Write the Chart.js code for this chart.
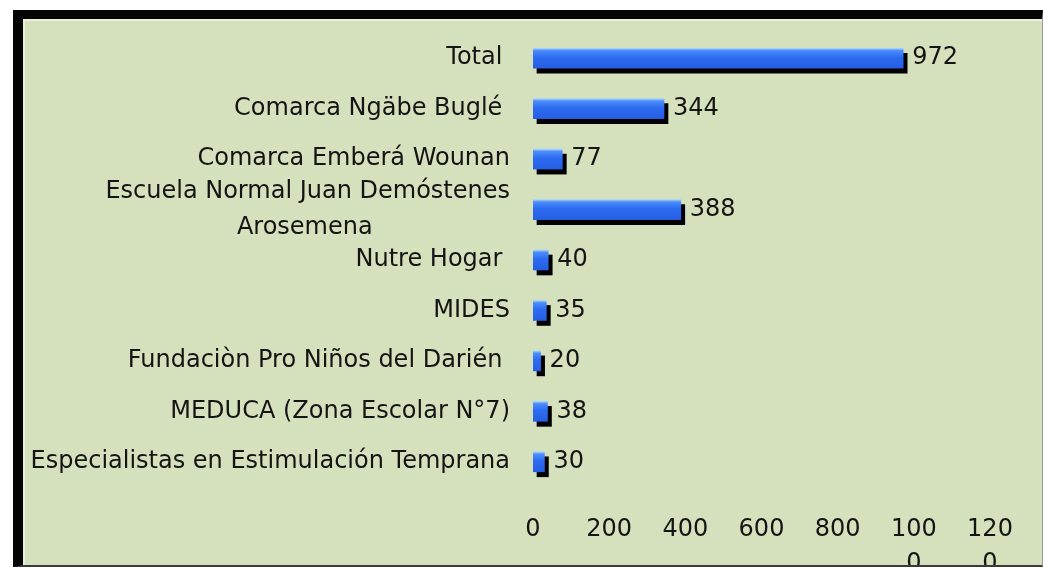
<!DOCTYPE html>
<html>
<head>
<meta charset="utf-8">
<script src="https://cdn.jsdelivr.net/npm/chart.js@4.4.1/dist/chart.umd.min.js"></script>
<style>
  html, body { margin: 0; padding: 0; background: #ffffff; }
  #frame {
    position: absolute; left: 13px; top: 10px;
    width: 1019px; height: 546px;
    border-top: 9px solid #050505;
    border-left: 10px solid #050505;
    border-right: 1px solid #9a9a9a;
    border-bottom: 2px solid #3a3a3a;
    background: #d5e0bd;
    box-shadow: inset 2px 2px 0 #e9efdc;
  }
  #clip { position: absolute; left: 0; top: 0; width: 1043px; height: 565px; overflow: hidden; }
  #wrap { position: absolute; left: 0; top: 0; width: 1043px; height: 569px; }
</style>
</head>
<body>
<div id="frame"></div>
<div id="clip"><div id="wrap"><canvas id="c"></canvas></div></div>
<script>
// ---- data ----
const categories = [
  'Total ',
  'Comarca Ngäbe Buglé ',
  'Comarca Emberá Wounan',
  ['Escuela Normal Juan Demóstenes', 'Arosemena                  '],
  'Nutre Hogar ',
  'MIDES',
  'Fundaciòn Pro Niños del Darién ',
  'MEDUCA (Zona Escolar N°7)',
  'Especialistas en Estimulación Temprana'
];
const values = [972, 344, 77, 388, 40, 35, 20, 38, 30];
const xTickLabels = ['0', '200', '400', '600', '800', ['100', '0'], ['120', '0']];
const xMin = 0, xMax = 1200, xStep = 200;

const FONT = '"DejaVu Sans", Verdana, sans-serif';

const barShadow = {
  id: 'barShadow',
  beforeDatasetDraw(chart) {
    const c = chart.ctx;
    c.save();
    c.shadowColor = '#000000';
    c.shadowOffsetX = 4;
    c.shadowOffsetY = 5;
    c.shadowBlur = 0;
  },
  afterDatasetDraw(chart) { chart.ctx.restore(); }
};

const valueLabels = {
  id: 'valueLabels',
  afterDatasetsDraw(chart) {
    const c = chart.ctx;
    const meta = chart.getDatasetMeta(0);
    c.save();
    c.font = '24px ' + FONT;
    c.fillStyle = '#141414';
    c.textAlign = 'left';
    c.textBaseline = 'middle';
    meta.data.forEach((el, i) => {
      c.fillText(String(values[i]), el.x + 9, el.y);
    });
    c.restore();
  }
};

new Chart(document.getElementById('c'), {
  type: 'bar',
  data: {
    labels: categories,
    datasets: [{
      data: values,
      barThickness: 20,
      borderWidth: 0,
      backgroundColor: (ctx) => {
        const chart = ctx.chart;
        const ys = chart.scales && chart.scales.y;
        if (!ys || ctx.dataIndex === undefined) return '#2f6ff2';
        const cy = ys.getPixelForValue(ctx.dataIndex);
        if (!isFinite(cy)) return '#2f6ff2';
        const g = chart.ctx.createLinearGradient(0, cy - 10, 0, cy + 10);
        g.addColorStop(0, '#a6d6ff');
        g.addColorStop(0.12, '#4d8cf8');
        g.addColorStop(0.45, '#2c6cf2');
        g.addColorStop(1, '#265ee2');
        return g;
      }
    }]
  },
  options: {
    indexAxis: 'y',
    responsive: true,
    maintainAspectRatio: false,
    animation: false,
    layout: { padding: { top: 33, right: 53, left: 0, bottom: 0 } },
    plugins: { legend: { display: false }, tooltip: { enabled: false } },
    scales: {
      x: {
        type: 'linear',
        min: xMin, max: xMax,
        grid: { display: false, drawTicks: false },
        border: { display: false },
        ticks: {
          stepSize: xStep,
          autoSkip: false,
          maxRotation: 0,
          padding: 25,
          color: '#141414',
          font: { family: FONT, size: 24, lineHeight: 1.45 },
          callback: (v, i) => xTickLabels[i]
        },
        afterFit: (s) => { s.height = 82; s.paddingLeft = 0; s.paddingRight = 0; }
      },
      y: {
        type: 'category',
        grid: { display: false, drawTicks: false },
        border: { display: false },
        ticks: {
          autoSkip: false,
          padding: 23,
          color: '#141414',
          font: { family: FONT, size: 24, lineHeight: 1.5 }
        },
        afterFit: (s) => { s.width = 533; s.paddingTop = 0; s.paddingBottom = 0; }
      }
    }
  },
  plugins: [barShadow, valueLabels]
});
</script>
</body>
</html>
